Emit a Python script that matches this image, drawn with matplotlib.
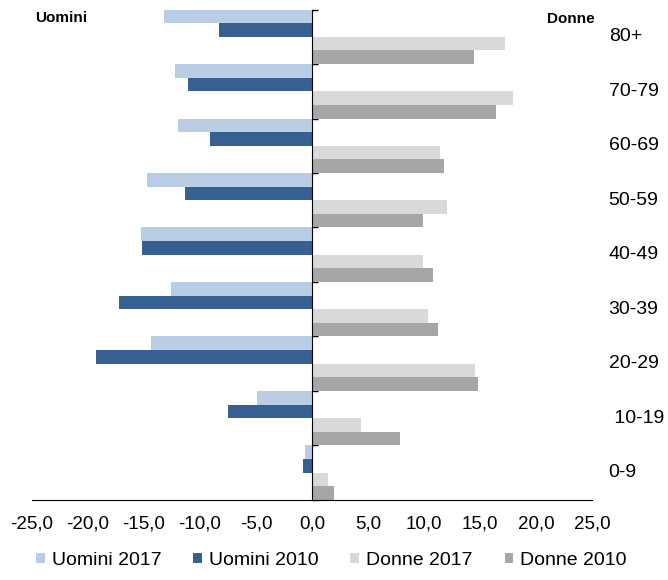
import numpy as np
import matplotlib
matplotlib.use("Agg")
import matplotlib.pyplot as plt
from matplotlib.transforms import blended_transform_factory
from matplotlib.ticker import FuncFormatter

plt.rcParams['font.family'] = ['Liberation Sans', 'DejaVu Sans']

# age classes, bottom to top
classes = ["0-9", " 10-19", "20-29", "30-39", "40-49", "50-59", "60-69", "70-79", "80+"]
uomini_2017 = [-0.6, -4.9, -14.4, -12.6, -15.3, -14.7, -12.0, -12.2, -13.2]
uomini_2010 = [-0.8, -7.5, -19.3, -17.2, -15.2, -11.3, -9.1, -11.1, -8.3]
donne_2017 = [1.4, 4.4, 14.6, 10.4, 9.9, 12.1, 11.4, 18.0, 17.2]
donne_2010 = [2.0, 7.9, 14.8, 11.3, 10.8, 9.9, 11.8, 16.4, 14.5]

series = [
    ("Uomini 2017", uomini_2017, "#B9CDE5", 0.375),
    ("Uomini 2010", uomini_2010, "#376092", 0.125),
    ("Donne 2017", donne_2017, "#D9D9D9", -0.125),
    ("Donne 2010", donne_2010, "#A6A6A6", -0.375),
]

fig = plt.figure(figsize=(6.68, 5.80), dpi=100)
ax = fig.add_axes([0.048, 0.138, 0.838, 0.8456])

y = np.arange(len(classes))
for name, vals, col, off in series:
    ax.barh(y + off, vals, height=0.25, color=col, label=name, zorder=2)

ax.set_xlim(-25, 25)
ax.set_ylim(-0.5, len(classes) - 0.5)
ax.set_xticks(np.arange(-25, 26, 5))
ax.xaxis.set_major_formatter(FuncFormatter(lambda v, p: f"{v:.1f}".replace(".", ",")))
ax.tick_params(axis='x', length=0, pad=11, labelsize=13.5)

ax.spines['top'].set_visible(False)
ax.spines['right'].set_visible(False)
ax.spines['left'].set_position(('data', 0))
ax.spines['left'].set_zorder(3)
ax.set_yticks(np.arange(-0.5, len(classes), 1.0))
ax.set_yticklabels([])
ax.tick_params(axis='y', direction='in', length=4.5, width=1)

trans = blended_transform_factory(ax.transAxes, ax.transData)
for i, lab in enumerate(classes):
    ax.text(1.03, i, lab, transform=trans, ha='left', va='center', fontsize=14)

fig.text(35 / 668, 1 - 18 / 580, "Uomini", fontsize=11, fontweight='bold', va='center', ha='left')
fig.text(595 / 668, 1 - 19 / 580, "Donne", fontsize=11, fontweight='bold', va='center', ha='right')

fig.legend(loc='center', bbox_to_anchor=(0.496, 0.034), ncol=4, frameon=False,
           fontsize=14, handlelength=0.45, handleheight=0.45, handletextpad=0.35,
           columnspacing=1.65)

fig.savefig("out.png", dpi=100)
